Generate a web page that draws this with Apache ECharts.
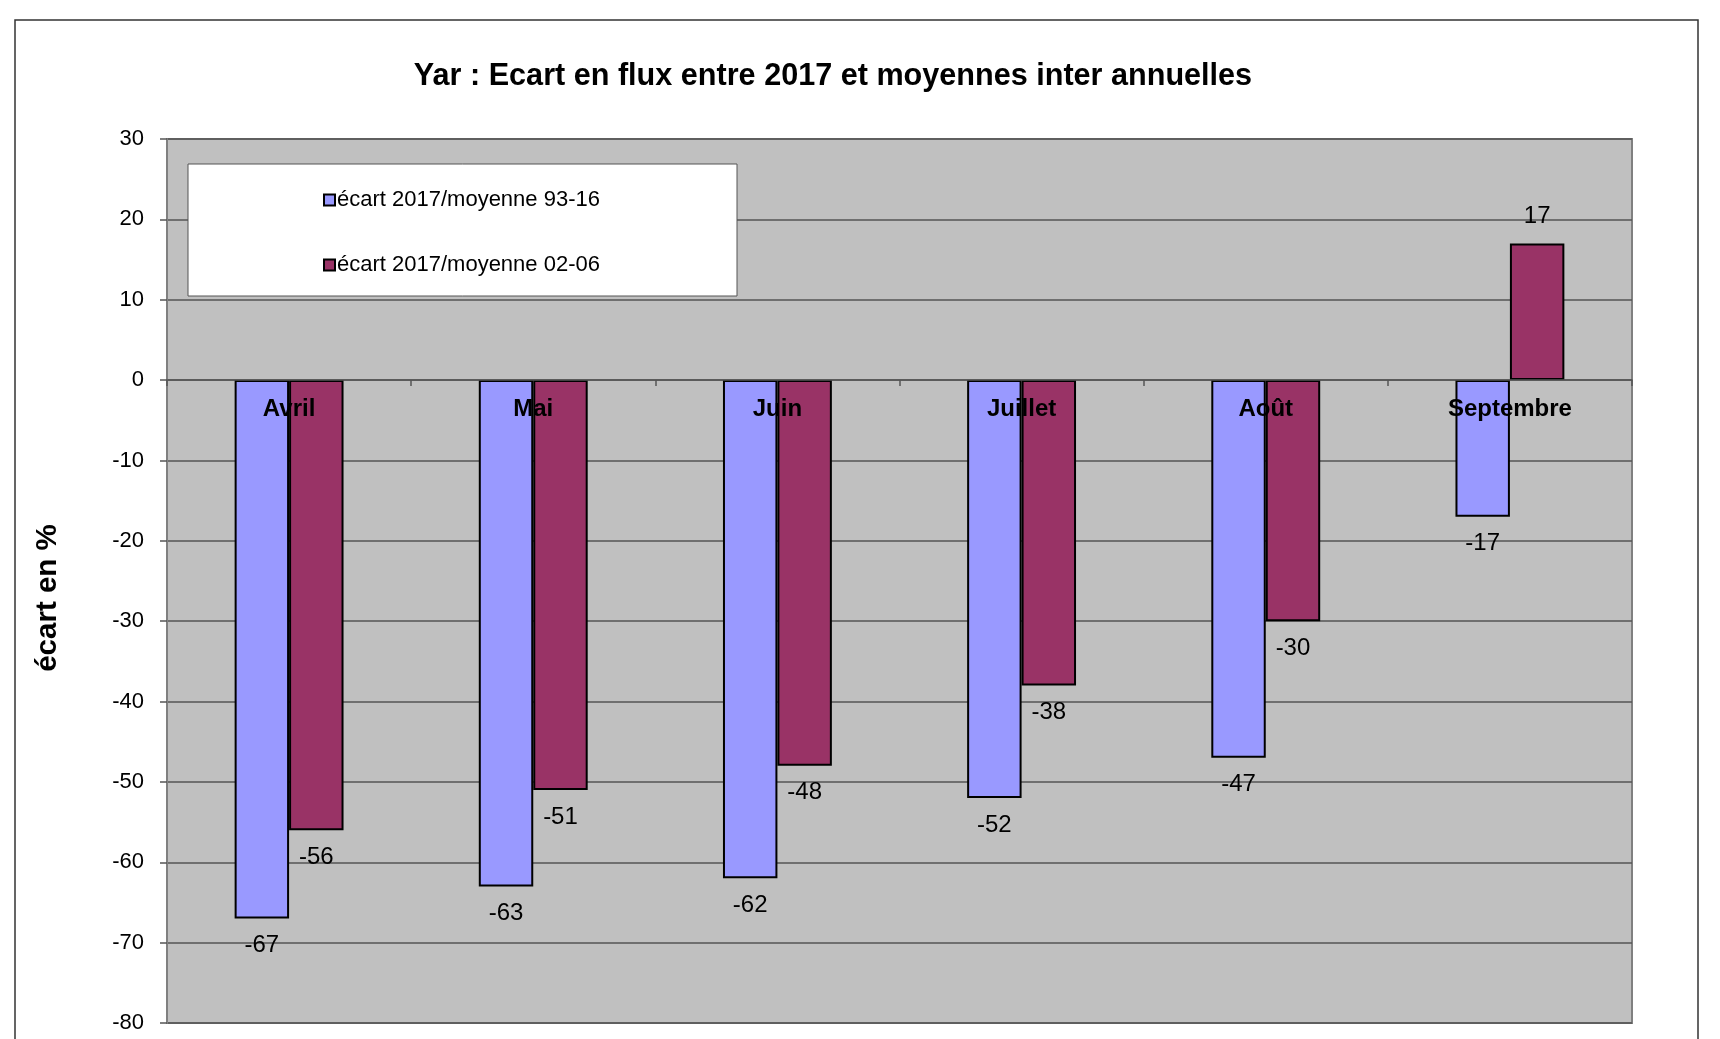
<!DOCTYPE html>
<html>
<head>
<meta charset="utf-8">
<script src="https://cdn.jsdelivr.net/npm/echarts@6/dist/echarts.min.js"></script>
<style>
  html, body { margin: 0; padding: 0; background: #fff; }
  #chart { width: 1720px; height: 1039px; }
</style>
</head>
<body>
<div id="chart"></div>
<script>
// Months of the 2017 season
const months = ['Avril', 'Mai', 'Juin', 'Juillet', 'Août', 'Septembre'];

// Flow deviation (%) of 2017 against the 1993-2016 mean
const ecart9316 = [-67, -63, -62, -52, -47, -17];

// Flow deviation (%) of 2017 against the 2002-2006 mean
const ecart0206 = [-56, -51, -48, -38, -30, 17];

const seriesNames = ['écart 2017/moyenne 93-16', 'écart 2017/moyenne 02-06'];

// Value axis range
const yMin = -80, yMax = 30, yStep = 10;

const FONT = '"Liberation Sans", Arial, sans-serif';

// Plot area placement
const GRID_TOP = 139, GRID_BOTTOM = 16, CHART_H = 1039;
const plotH = CHART_H - GRID_TOP - GRID_BOTTOM;
// distance from the plot bottom up to the zero line, so month names sit on it
const zeroOffset = plotH * (0 - yMin) / (yMax - yMin);

// Put value labels above positive bars and below negative ones
function withLabels(values) {
  return values.map(v => ({
    value: v,
    label: { position: v < 0 ? 'bottom' : 'top' }
  }));
}

const chart = echarts.init(document.getElementById('chart'), null, { renderer: 'canvas' });

chart.setOption({
  backgroundColor: '#ffffff',
  animation: false,
  title: {
    text: 'Yar : Ecart en flux entre 2017 et moyennes inter annuelles',
    left: 828,
    top: 56,
    textAlign: 'center',
    textStyle: { fontFamily: FONT, fontSize: 30.6, fontWeight: 'bold', color: '#000' }
  },
  graphic: [
    {
      // frame around the whole chart
      type: 'rect',
      z: 0,
      shape: { x: 15, y: 20, width: 1683, height: 1100 },
      style: { fill: 'none', stroke: '#333', lineWidth: 1.5 }
    },
    {
      // legend panel
      type: 'rect',
      z: 3,
      shape: { x: 188, y: 164, width: 549, height: 132 },
      style: { fill: '#ffffff', stroke: '#555', lineWidth: 1 }
    }
  ],
  legend: {
    orient: 'vertical',
    left: 318,
    top: 184,
    z: 4,
    itemWidth: 11,
    itemHeight: 11,
    itemGap: 43,
    icon: 'rect',
    textStyle: { fontFamily: FONT, fontSize: 22, color: '#000', padding: [0, 0, 0, -3] },
    data: seriesNames
  },
  grid: {
    left: 167,
    right: 88,
    top: GRID_TOP,
    bottom: GRID_BOTTOM,
    containLabel: false,
    outerBoundsMode: 'none',
    show: true,
    backgroundColor: '#c0c0c0',
    borderColor: '#808080',
    borderWidth: 2
  },
  xAxis: {
    type: 'category',
    data: months,
    z: 10,
    position: 'bottom',
    offset: -zeroOffset,
    axisLine: { onZero: false, lineStyle: { color: '#555', width: 1.5 } },
    axisTick: { show: true, length: 6, lineStyle: { color: '#555', width: 1.5 } },
    axisLabel: {
      margin: 17,
      fontFamily: FONT,
      fontSize: 24,
      fontWeight: 'bold',
      color: '#000'
    },
    splitLine: { show: false }
  },
  yAxis: {
    type: 'value',
    min: yMin,
    max: yMax,
    interval: yStep,
    name: 'écart en %',
    nameLocation: 'middle',
    nameRotate: 90,
    nameGap: 104,
    nameTextStyle: {
      fontFamily: FONT,
      fontSize: 29.5,
      fontWeight: 'bold',
      color: '#000',
      // shifts the rotated title a little lower than the axis midpoint
      padding: [0, 34, 0, 0]
    },
    axisLine: { show: true, lineStyle: { color: '#808080', width: 2 } },
    axisTick: { show: true, length: 7, lineStyle: { color: '#555', width: 1.5 } },
    axisLabel: { margin: 23, fontFamily: FONT, fontSize: 22, color: '#000' },
    splitLine: { show: true, lineStyle: { color: '#555', width: 1.5 } }
  },
  series: [
    {
      name: seriesNames[0],
      type: 'bar',
      data: withLabels(ecart9316),
      barGap: '0%',
      barCategoryGap: '55.4%',
      itemStyle: { color: '#9999ff', borderColor: '#000', borderWidth: 2 },
      label: {
        show: true,
        distance: 15,
        fontFamily: FONT,
        fontSize: 24,
        color: '#000'
      }
    },
    {
      name: seriesNames[1],
      type: 'bar',
      data: withLabels(ecart0206),
      barGap: '0%',
      barCategoryGap: '55.4%',
      itemStyle: { color: '#993366', borderColor: '#000', borderWidth: 2 },
      label: {
        show: true,
        distance: 15,
        fontFamily: FONT,
        fontSize: 24,
        color: '#000'
      }
    }
  ]
});
</script>
</body>
</html>
